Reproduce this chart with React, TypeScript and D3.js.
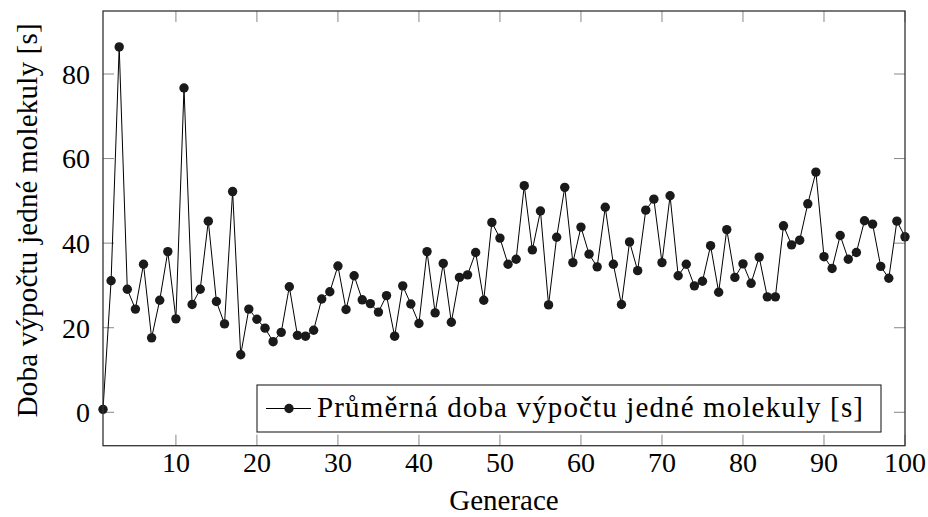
import React from "react";
import * as d3 from "d3";

const generations: number[] = d3.range(1, 101);
const avgTime: number[] = [
  0.7, 31.1, 86.4, 29.1, 24.4, 35.0, 17.6, 26.5, 38.0, 22.1,
  76.7, 25.5, 29.1, 45.2, 26.2, 20.9, 52.2, 13.6, 24.4, 22.0,
  19.9, 16.7, 18.9, 29.7, 18.2, 18.0, 19.4, 26.8, 28.5, 34.6,
  24.3, 32.3, 26.6, 25.7, 23.7, 27.6, 18.0, 29.9, 25.6, 21.0,
  38.0, 23.5, 35.2, 21.3, 31.9, 32.5, 37.8, 26.5, 44.9, 41.2,
  35.0, 36.2, 53.6, 38.4, 47.6, 25.4, 41.4, 53.2, 35.4, 43.8,
  37.4, 34.4, 48.5, 35.0, 25.5, 40.3, 33.5, 47.8, 50.4, 35.4,
  51.2, 32.3, 35.0, 29.9, 31.0, 39.4, 28.4, 43.2, 31.9, 35.1,
  30.5, 36.7, 27.3, 27.3, 44.1, 39.6, 40.7, 49.3, 56.8, 36.8,
  34.0, 41.8, 36.2, 37.8, 45.3, 44.5, 34.5, 31.7, 45.2, 41.5,
];
const xTicks: number[] = [10, 20, 30, 40, 50, 60, 70, 80, 90, 100];
const yTicks: number[] = [0, 20, 40, 60, 80];
const xLabel = "Generace";
const yLabel = "Doba výpočtu jedné molekuly [s]";
const legendLabel = "Průměrná doba výpočtu jedné molekuly [s]";

const W = 928;
const H = 517;
const L = 103, R = 905, T = 11, B = 445.7;
const FONT = "'Liberation Serif', 'DejaVu Serif', serif";

export default function App() {
  const x = d3.scaleLinear().domain([1, 100]).range([L, R]);
  const y = d3.scaleLinear().domain([-7.9, 94.9]).range([B, T]);
  const data = generations.map((g, i) => ({ g, v: avgTime[i] }));
  const line = d3
    .line<{ g: number; v: number }>()
    .x((d) => x(d.g))
    .y((d) => y(d.v));
  const tickLen = 11;
  const tickColor = "#888";

  const legX = 257, legY = 385, legW = 624, legH = 47;

  return (
    <svg
      width={W}
      height={H}
      style={{ position: "absolute", left: 0, top: 0, background: "#fff" }}
      fontFamily={FONT}
    >
      <rect x={0} y={0} width={W} height={H} fill="#fff" />
      {/* ticks */}
      {xTicks.map((t) => (
        <g key={"xt" + t}>
          <line x1={x(t)} x2={x(t)} y1={B} y2={B - tickLen} stroke={tickColor} strokeWidth={1} />
          <line x1={x(t)} x2={x(t)} y1={T} y2={T + tickLen} stroke={tickColor} strokeWidth={1} />
          <text x={x(t)} y={472} textAnchor="middle" fontSize={28} fill="#000">
            {t}
          </text>
        </g>
      ))}
      {yTicks.map((t) => (
        <g key={"yt" + t}>
          <line x1={L} x2={L + tickLen} y1={y(t)} y2={y(t)} stroke={tickColor} strokeWidth={1} />
          <line x1={R} x2={R - tickLen} y1={y(t)} y2={y(t)} stroke={tickColor} strokeWidth={1} />
          <text x={90} y={y(t)} dy="0.35em" textAnchor="end" fontSize={28} fill="#000">
            {t}
          </text>
        </g>
      ))}
      {/* data */}
      <path d={line(data) || ""} fill="none" stroke="#000" strokeWidth={1} />
      {data.map((d) => (
        <circle key={d.g} cx={x(d.g)} cy={y(d.v)} r={4.7} fill="#1a1a1a" />
      ))}
      {/* frame */}
      <rect x={L} y={T} width={R - L} height={B - T} fill="none" stroke="#333" strokeWidth={1.3} />
      {/* legend */}
      <rect x={legX} y={legY} width={legW} height={legH} fill="#fff" stroke="#222" strokeWidth={1.1} />
      <line x1={266} x2={311} y1={legY + legH / 2} y2={legY + legH / 2} stroke="#000" strokeWidth={1} />
      <circle cx={289} cy={legY + legH / 2} r={4.7} fill="#1a1a1a" />
      <text x={317} y={417} fontSize={29} fill="#000" textLength={546} lengthAdjust="spacing">
        {legendLabel}
      </text>
      {/* axis labels */}
      <text x={(L + R) / 2} y={510} textAnchor="middle" fontSize={29} fill="#000">
        {xLabel}
      </text>
      <text
        transform={`translate(37, ${(T + B) / 2 - 8}) rotate(-90)`}
        textAnchor="middle"
        fontSize={29}
        fill="#000"
        textLength={394}
        lengthAdjust="spacing"
      >
        {yLabel}
      </text>
    </svg>
  );
}
